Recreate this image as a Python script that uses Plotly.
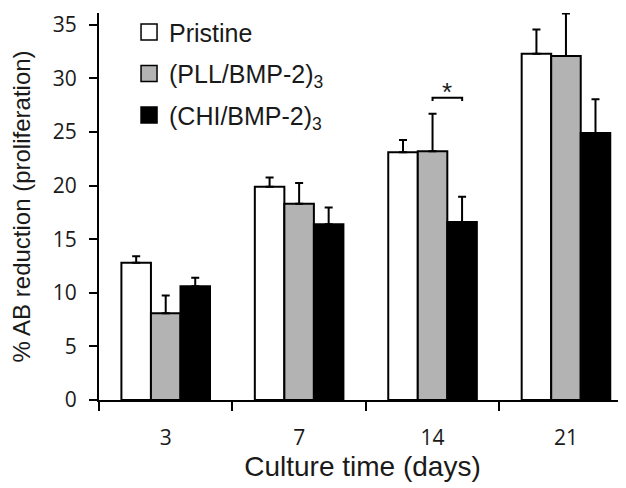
import plotly.graph_objects as go

days = ["3", "7", "14", "21"]
series_names = ["Pristine", "(PLL/BMP-2)<sub>3</sub>", "(CHI/BMP-2)<sub>3</sub>"]
pristine = [12.8, 19.9, 23.1, 32.3]
pristine_err = [0.6, 0.85, 1.15, 2.25]
pll = [8.1, 18.3, 23.2, 32.1]
pll_err = [1.65, 1.95, 3.5, 3.95]
chi = [10.6, 16.4, 16.6, 24.9]
chi_err = [0.8, 1.55, 2.35, 3.15]

values = [pristine, pll, chi]
errors = [pristine_err, pll_err, chi_err]
colors = ["white", "#b3b3b3", "black"]
ink = "#1a1a1a"

fig = go.Figure()
for i, (name, vals, errs, col) in enumerate(zip(series_names, values, errors, colors)):
    fig.add_trace(go.Bar(
        x=days, y=vals, name=name, showlegend=False,
        marker=dict(color=col, line=dict(color="black", width=2)),
        error_y=dict(type="data", array=errs, arrayminus=[0] * len(errs),
                     symmetric=False, color="black", thickness=2, width=4),
    ))
    # legend entry with bigger square swatch
    fig.add_trace(go.Scatter(
        x=[None], y=[None], mode="markers", name=name, legendgroup=f"g{i}",
        marker=dict(symbol="square", size=18, color=col,
                    line=dict(color="black", width=1.5)),
    ))

# significance bracket between PLL and CHI at day 14
fig.add_shape(type="path", xref="x", yref="y",
              path="M 2.0,27.9 L 2.0,28.2 L 2.222,28.2 L 2.222,27.9",
              line=dict(color="black", width=2))
fig.add_annotation(x=2.111, y=28.75, text="*", showarrow=False, xref="x", yref="y",
                   yanchor="middle", font=dict(size=26, color=ink))

# page body has an 8px margin, so the figure is 8px smaller and margins shifted
fig.update_layout(
    width=618, height=480,
    barmode="group", bargap=0.336, bargroupgap=0,
    plot_bgcolor="white", paper_bgcolor="white",
    margin=dict(l=91, r=0, t=5, b=88),
    font=dict(family="Liberation Sans, Arial, sans-serif", size=22, color=ink),
    legend=dict(x=0.057, y=1.01, xanchor="left", yanchor="top",
                bgcolor="rgba(0,0,0,0)", font=dict(size=25), itemwidth=30,
                tracegroupgap=6),
    xaxis=dict(
        title=dict(text="Culture time (days)", font=dict(size=28), standoff=6),
        range=[-0.5, 3.45], showline=True, linecolor="black", linewidth=2,
        ticks="outside", tickson="boundaries", ticklen=9, tickwidth=2,
        tickcolor="black", showgrid=False, zeroline=False, automargin=False,
        ticklabelstandoff=18,
        tickfont=dict(family="Open Sans, sans-serif", size=21),
    ),
    yaxis=dict(
        title=dict(text="% AB reduction (proliferation)", font=dict(size=24), standoff=24),
        range=[0, 36.1], tickvals=[0, 5, 10, 15, 20, 25, 30, 35],
        showline=True, linecolor="black", linewidth=2,
        ticks="outside", ticklen=8, tickwidth=2, tickcolor="black",
        showgrid=False, zeroline=False, automargin=False,
        ticklabelstandoff=8,
        tickfont=dict(family="Open Sans, sans-serif", size=21),
    ),
)

fig.write_html("out.html")
